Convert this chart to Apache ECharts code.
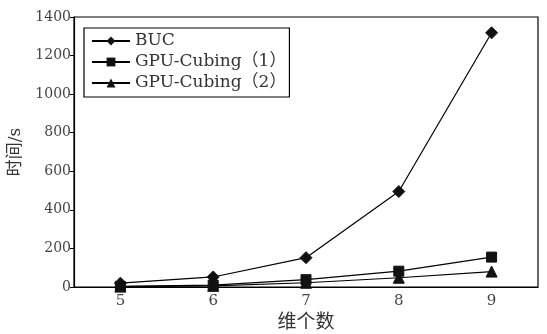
<!DOCTYPE html>
<html>
<head>
<meta charset="utf-8">
<script src="https://cdn.jsdelivr.net/npm/echarts@6/dist/echarts.min.js"></script>
<style>html,body{margin:0;padding:0;background:#fff}#c{width:547px;height:334px}</style>
</head>
<body>
<div id="c"></div>
<script>
// Dimension counts on the x axis
const dims = ['5', '6', '7', '8', '9'];
// Run time in seconds for each algorithm
const buc = [20, 52, 152, 495, 1318];
const gpu1 = [3, 10, 38, 82, 155];
const gpu2 = [2, 6, 22, 48, 80];
const yTicks = [0, 200, 400, 600, 800, 1000, 1200, 1400];
const names = ['BUC', 'GPU-Cubing（1）', 'GPU-Cubing（2）'];

const serif = '"DejaVu Serif", "Liberation Serif", "Noto Sans CJK SC", serif';
const chart = echarts.init(document.getElementById('c'), null, {renderer: 'canvas'});

function line(name, data, symbol, size) {
  return {
    name, type: 'line', data, symbol, symbolSize: size,
    showAllSymbol: true,
    lineStyle: {color: '#000', width: 1.2},
    itemStyle: {color: '#111', borderColor: '#111'},
    emphasis: {disabled: true}, animation: false
  };
}

chart.setOption({
  animation: false,
  grid: {
    left: 74, right: 9, top: 17, bottom: 47, outerBoundsMode: 'none',
    show: true, borderColor: '#000', borderWidth: 1.2, backgroundColor: 'transparent'
  },
  legend: {
    orient: 'vertical', left: 84, top: 28, padding: [4, 3, 5, 7],
    borderColor: '#000', borderWidth: 1.2, itemGap: 3,
    itemWidth: 38, itemHeight: 11,
    textStyle: {fontFamily: serif, fontSize: 17, color: '#333', lineHeight: 18},
    data: names
  },
  xAxis: {
    type: 'category', data: dims, boundaryGap: true,
    name: '维个数', nameLocation: 'middle', nameGap: 27,
    nameTextStyle: {fontFamily: serif, fontSize: 19, color: '#333'},
    axisLine: {lineStyle: {color: '#000', width: 1.2}},
    axisTick: {alignWithLabel: true, inside: true, length: 6, lineStyle: {color: '#000'}},
    axisLabel: {fontFamily: serif, fontSize: 15, color: '#444', margin: 7},
    splitLine: {show: false}
  },
  yAxis: {
    type: 'value', min: yTicks[0], max: yTicks[yTicks.length - 1], interval: 200,
    name: '时间/s', nameLocation: 'middle', nameGap: 46, nameRotate: 90,
    nameTextStyle: {fontFamily: serif, fontSize: 17, color: '#333'},
    axisLine: {show: true, lineStyle: {color: '#000', width: 1.2}},
    axisTick: {show: true, length: 4, lineStyle: {color: '#000'}},
    axisLabel: {fontFamily: serif, fontSize: 14, color: '#444', margin: 3, formatter: v => String(v)},
    splitLine: {show: false}
  },
  series: [
    line(names[0], buc, 'diamond', 12),
    line(names[1], gpu1, 'rect', 10),
    line(names[2], gpu2, 'triangle', 11)
  ]
});
</script>
</body>
</html>
